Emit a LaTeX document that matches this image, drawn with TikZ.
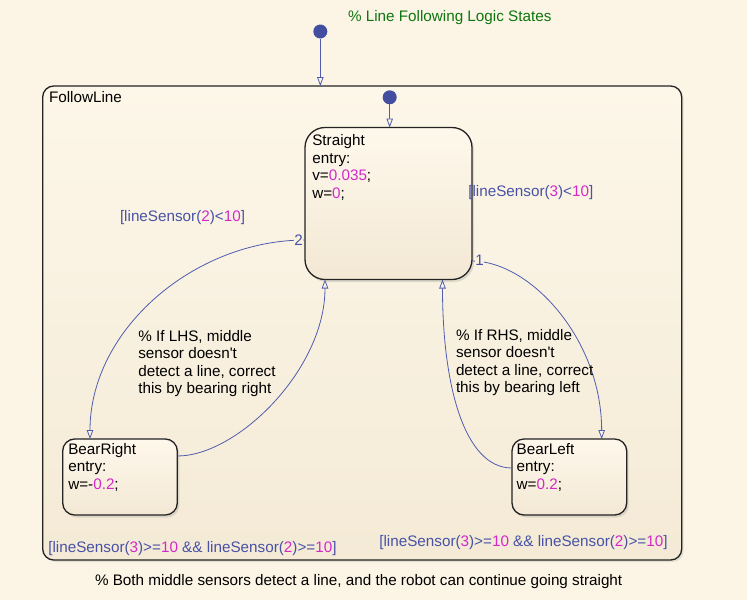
\documentclass[tikz,border=0pt]{standalone}
\usepackage{fontspec}
\newfontfamily\lsans{Liberation Sans}
\usetikzlibrary{arrows.meta,shadows,calc}
\definecolor{bgc}{RGB}{252,245,230}
\definecolor{flt}{RGB}{253,247,233}
\definecolor{flb}{RGB}{244,234,214}
\definecolor{sttop}{RGB}{254,248,236}
\definecolor{stbot}{RGB}{243,232,212}
\definecolor{bordc}{RGB}{35,35,35}
\definecolor{blu}{RGB}{72,82,165}
\definecolor{mag}{RGB}{212,40,200}
\definecolor{linec}{RGB}{80,92,175}
\definecolor{dotc}{RGB}{68,78,160}
\definecolor{grn}{RGB}{14,118,14}
\newcommand{\magnum}[1]{\textcolor{mag}{#1}}
\begin{document}
\begin{tikzpicture}[x=1pt,y=-1pt,
  every node/.style={inner sep=0pt, outer sep=0pt, font=\lsans\fontsize{15.25}{17.6}\selectfont},
  superbox/.style={draw=bordc, line width=1.3pt, rounded corners=11pt, top color=flt, bottom color=flb,
    drop shadow={opacity=0.18, shadow xshift=2pt, shadow yshift=-2pt}},
  statebox/.style={draw=bordc, line width=1.3pt, top color=sttop, bottom color=stbot,
    drop shadow={opacity=0.22, shadow xshift=2pt, shadow yshift=-2.5pt}},
  txt/.style={anchor=north west, align=left, text=black},
  onel/.style={anchor=base west},
  guard/.style={anchor=base west, text=blu},
  initdot/.style={circle, fill=dotc, minimum size=14pt},
  trans/.style={draw=linec, line width=0.8pt, -{Triangle[length=9pt, width=6.5pt, fill=bgc]}},
  num/.style={text=blu, fill=flt!60!flb, inner sep=0.3pt}
]
\fill[bgc] (0,0) rectangle (747,600);
\useasboundingbox (0,0) rectangle (747,600);

% superstate
\node[superbox, minimum width=639pt, minimum height=474pt] (followline) at (362.2,323) {};
\node[onel] (flname) at (49,102.7) {FollowLine};

% title
\node[onel, text=grn] (title) at (348,21) {\% Line Following Logic States};

% states
\node[statebox, rounded corners=20pt, minimum width=167pt, minimum height=152pt] (straight) at (388.5,203.5) {};
\node[statebox, rounded corners=12pt, minimum width=114.6pt, minimum height=76pt] (bearright) at (120,477) {};
\node[statebox, rounded corners=12pt, minimum width=114.7pt, minimum height=76pt] (bearleft) at (569.35,477) {};

\node[txt] (straighttxt) at (312.3,134.6) {Straight\\entry:\\v=\magnum{0.035};\\w=\magnum{0};};
\node[txt] (bearrighttxt) at (68.3,443) {BearRight\\entry:\\w=-\magnum{0.2};};
\node[txt] (bearlefttxt) at (516.7,443) {BearLeft\\entry:\\w=\magnum{0.2};};

% default transitions
\node[initdot] (init0) at (320.3,31.5) {};
\node[initdot] (init1) at (389.7,97.3) {};
\draw[trans] (init0) -- (init0 |- followline.north);
\draw[trans] (init1) -- (init1 |- straight.north);

% transitions
\draw[trans] ([yshift=-57.5pt]straight.east) .. controls +(58,0) and +(0,-100) .. ([xshift=32.3pt]bearleft.north);
\node[num] (n1) at (479.5,260.5) {1};
\draw[trans] ([yshift=9pt]bearleft.west) .. controls +(-48,0) and +(0,105) .. ([xshift=54pt]straight.south);
\draw[trans] ([yshift=-36.5pt]straight.west) .. controls +(-110,0) and +(0,-110) .. ([xshift=-30pt]bearright.north);
\node[num] (n2) at (298.5,240) {2};
\draw[trans] ([yshift=21pt]bearright.east) .. controls +(60,0) and +(0,90) .. ([xshift=-63.5pt]straight.south);

% guards
\node[guard] (g2) at (120,221.7) {[lineSensor(\magnum{2})<\magnum{10}]};
\node[guard] (g3) at (468.3,196) {[lineSensor(\magnum{3})<\magnum{10}]};
\node[guard] (gl) at (48.3,552.3) {[lineSensor(\magnum{3})>=\magnum{10} \&\& lineSensor(\magnum{2})>=\magnum{10}]};
\node[guard] (gr) at (379.3,546.7) {[lineSensor(\magnum{3})>=\magnum{10} \&\& lineSensor(\magnum{2})>=\magnum{10}]};

% comments
\node[txt] (clhs) at (138.3,330) {\% If LHS, middle\\sensor doesn't\\detect a line, correct\\this by bearing right};
\node[txt] (crhs) at (456,329) {\% If RHS, middle\\sensor doesn't\\detect a line, correct\\this by bearing left};
\node[onel] (cbot) at (95,585.7) {\% Both middle sensors detect a line, and the robot can continue going straight};
\end{tikzpicture}
\end{document}
